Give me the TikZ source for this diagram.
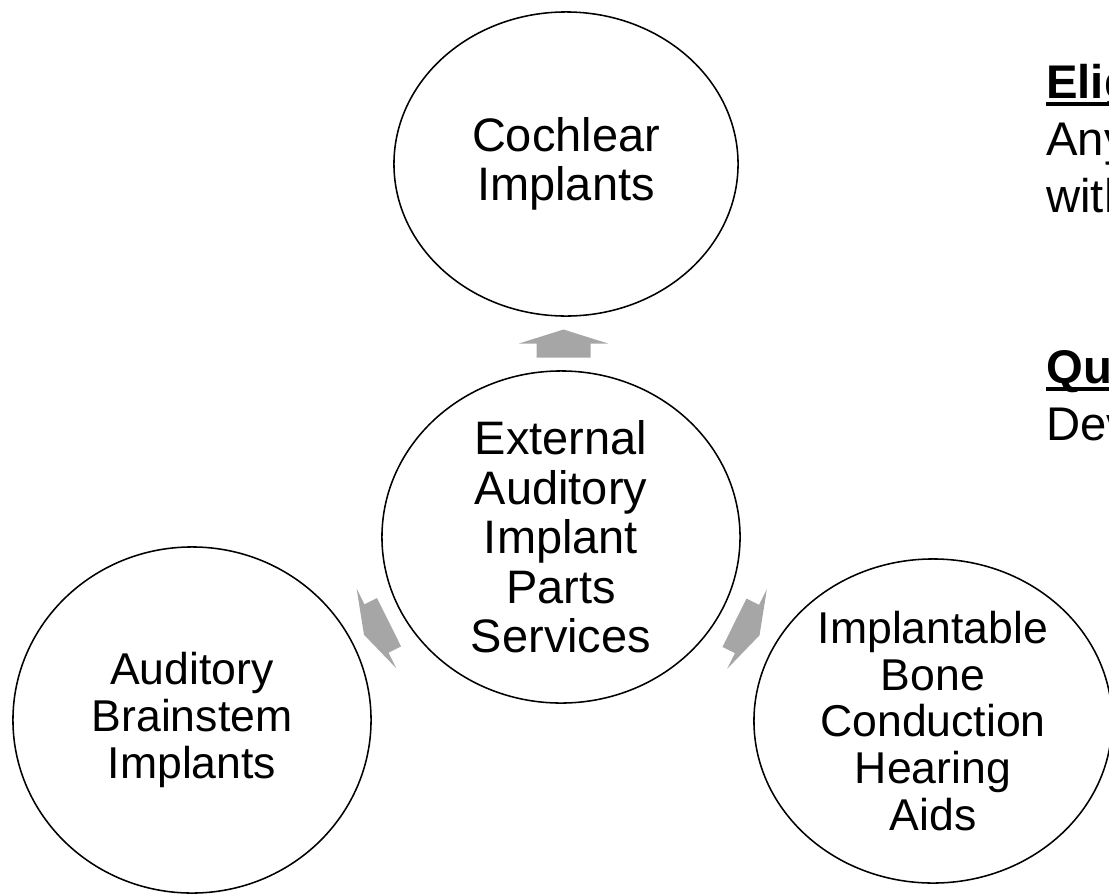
\documentclass[tikz,border=0pt]{standalone}
\usepackage{fontspec}
\setmainfont{Liberation Sans}
\usetikzlibrary{shapes.geometric,calc}

\definecolor{arrowgray}{RGB}{166,166,166}
\newcommand{\ulword}[1]{\setbox0=\hbox{#1}\rlap{\rule[-0.16em]{\wd0}{0.08em}}\box0}

\tikzset{
    bubble/.style={draw, ellipse, line width=1.1pt, inner sep=0pt, align=center},
    sidetext/.style={anchor=base west, inner sep=0pt, font=\fontsize{33.6}{40}\selectfont},
    blockarrow/.pic={\fill[arrowgray] (0,-14) -- (44.5,0) -- (27,0) -- (27,14) -- (-27,14) -- (-27,0) -- (-44.5,0) -- cycle;}
}

\begin{document}
\begin{tikzpicture}[x=0.025cm, y=-0.025cm]
    \useasboundingbox (0,0) rectangle (1109,895);

    \node[bubble, minimum width=8.6cm, minimum height=7.6cm, font=\fontsize{33.4}{34.9}\selectfont] (cochlear) at (566,164) {Cochlear\\Implants};
    \node[bubble, minimum width=8.95cm, minimum height=8.3cm, font=\fontsize{33.4}{35.2}\selectfont] (hub) at (561,537) {External\\Auditory\\Implant\\Parts\\Services};
    \node[bubble, minimum width=8.95cm, minimum height=8.65cm, font=\fontsize{31.7}{33.4}\selectfont] (abi) at (192,720) {Auditory\\Brainstem\\Implants};
    \node[bubble, minimum width=8.95cm, minimum height=8.1cm, font=\fontsize{31.7}{33.1}\selectfont] (ibc) at (933,721) {Implantable\\Bone\\Conduction\\Hearing\\Aids};

    \pic at ($(hub.north)!0.5!(cochlear.south)$) {blockarrow};
    \pic[rotate=116.5] at ($(hub.center)!0.5!(abi.center)$) {blockarrow};
    \pic[rotate=-116.5] at ($(hub.center)!0.5!(ibc.center)$) {blockarrow};

    \node[sidetext] (eligHead) at (1046,98) {\ulword{\textbf{Elig}}};
    \node[sidetext] (eligLine1) at (1046,155) {Any};
    \node[sidetext] (eligLine2) at (1046,212) {with};
    \node[sidetext] (qualHead) at (1046,383) {\ulword{\textbf{Qu}}};
    \node[sidetext] (qualLine1) at (1046,440) {Dev};

\end{tikzpicture}
\end{document}
